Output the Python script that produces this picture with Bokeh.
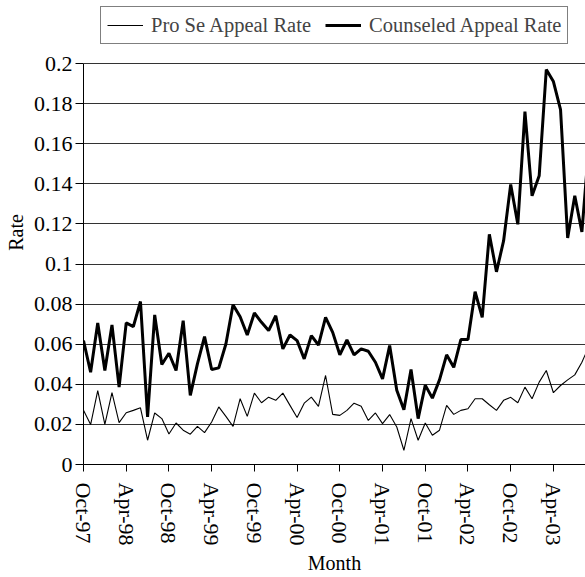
import pandas as pd
from bokeh.plotting import figure
from bokeh.models import Range1d, FixedTicker, Legend, LegendItem
from bokeh.embed import file_html
from bokeh.resources import INLINE

# Monthly appeal rates, Oct-97 onwards
pro_se = [0.027, 0.0199, 0.0369, 0.020, 0.0358, 0.0209, 0.0258, 0.027, 0.0283, 0.0121,
          0.0257, 0.0229, 0.0152, 0.0207, 0.0171, 0.0151, 0.019, 0.0159, 0.0212, 0.0287,
          0.024, 0.019, 0.0328, 0.024, 0.0356, 0.0308, 0.0336, 0.032, 0.0356, 0.0295,
          0.0234, 0.0306, 0.0336, 0.029, 0.0444, 0.025, 0.0245, 0.027, 0.0306, 0.029,
          0.022, 0.0257, 0.0204, 0.0249, 0.0187, 0.0071, 0.0229, 0.0121, 0.0207, 0.0146,
          0.0171, 0.0295, 0.025, 0.027, 0.0278, 0.0328, 0.0328, 0.0298, 0.027, 0.032,
          0.0335, 0.0308, 0.0386, 0.0328, 0.0411, 0.0469, 0.0358, 0.0394, 0.0422, 0.0447,
          0.051, 0.059]
counseled = [0.0618, 0.046, 0.0706, 0.0469, 0.0696, 0.0386, 0.0706, 0.0688, 0.0813, 0.0237,
             0.0746, 0.0499, 0.0555, 0.0469, 0.0717, 0.0345, 0.0502, 0.0638, 0.0474, 0.0482,
             0.0601, 0.0797, 0.0737, 0.0646, 0.0756, 0.0709, 0.0668, 0.0742, 0.0577, 0.0646,
             0.0618, 0.0527, 0.0643, 0.0596, 0.0734, 0.0659, 0.0547, 0.0621, 0.0547, 0.0577,
             0.0565, 0.051, 0.0427, 0.0593, 0.037, 0.0273, 0.0474, 0.0229, 0.0396, 0.0331,
             0.0422, 0.0547, 0.0485, 0.0623, 0.0623, 0.0862, 0.0734, 0.1148, 0.0961, 0.1115,
             0.1397, 0.1198, 0.176, 0.134, 0.144, 0.197, 0.191, 0.177, 0.113, 0.134,
             0.116, 0.16]
months = list(pd.date_range("1997-10-01", periods=len(counseled), freq="MS").strftime("%b-%y"))
tick_labels = ["Oct-97", "Apr-98", "Oct-98", "Apr-99", "Oct-99", "Apr-00",
               "Oct-00", "Apr-01", "Oct-01", "Apr-02", "Oct-02", "Apr-03"]
y_ticks = [0, 0.02, 0.04, 0.06, 0.08, 0.1, 0.12, 0.14, 0.16, 0.18, 0.2]
y_tick_labels = ["0", "0.02", "0.04", "0.06", "0.08", "0.1", "0.12", "0.14", "0.16", "0.18", "0.2"]

FONT = "Liberation Serif"
W, H = 585, 577
LEFT = 83
PLOT_TOP = 63          # pixel row of the 0.2 gridline
AXIS_Y = 464           # pixel row of the x axis
PX_PER_MONTH = 7.12
px_per_unit = (AXIS_Y - PLOT_TOP) / (y_ticks[-1] - y_ticks[0])
y_top = y_ticks[-1] + PLOT_TOP / px_per_unit   # frame extends to the top edge (room for legend)

x = list(range(len(months)))
p = figure(width=W, height=H, output_backend="svg", toolbar_location=None,
           x_range=Range1d(0, (W - LEFT) / PX_PER_MONTH), y_range=Range1d(0, y_top),
           min_border_left=LEFT, min_border_right=0, min_border_top=0,
           min_border_bottom=H - AXIS_Y)
p.outline_line_color = None
p.background_fill_color = "white"
p.border_fill_color = "white"
p.xgrid.visible = False
p.ygrid.grid_line_color = "#333333"
p.ygrid.grid_line_width = 1

r1 = p.line(x, pro_se, line_color="black", line_width=1.1)
r2 = p.line(x, counseled, line_color="black", line_width=3)

tick_idx = [months.index(t) for t in tick_labels]
p.xaxis.ticker = FixedTicker(ticks=tick_idx)
p.xaxis.major_label_overrides = {i: months[i] for i in tick_idx}
p.xaxis.major_label_orientation = "vertical"
p.xaxis.major_tick_out = 7
p.xaxis.major_tick_in = 0
p.xaxis.minor_tick_out = 0
p.xaxis.minor_tick_in = 0
p.xaxis.major_label_standoff = 11
p.xaxis.axis_label = "Month"
p.xaxis.axis_label_standoff = 3

p.yaxis.ticker = FixedTicker(ticks=y_ticks)
p.yaxis.bounds = (y_ticks[0], y_ticks[-1])
p.yaxis.major_label_overrides = dict(zip(y_ticks, y_tick_labels))
p.yaxis.major_tick_out = 8
p.yaxis.major_tick_in = 0
p.yaxis.minor_tick_out = 0
p.yaxis.minor_tick_in = 0
p.yaxis.major_label_standoff = 3
p.yaxis.axis_label = "Rate"
p.yaxis.axis_label_standoff = 4

for ax in (p.xaxis, p.yaxis):
    ax.major_label_text_font = FONT
    ax.major_label_text_font_size = "22px"
    ax.major_label_text_color = "black"
    ax.axis_label_text_font = FONT
    ax.axis_label_text_font_size = "20px"
    ax.axis_label_text_font_style = "normal"
    ax.axis_label_text_color = "black"
    ax.axis_line_color = "black"
    ax.major_tick_line_color = "black"

legend = Legend(items=[LegendItem(label="Pro Se Appeal Rate", renderers=[r1]),
                       LegendItem(label="Counseled Appeal Rate", renderers=[r2])],
                orientation="horizontal", location=(17, AXIS_Y - 44),
                border_line_color="black", border_line_width=1,
                background_fill_color="white", background_fill_alpha=1,
                label_text_font=FONT, label_text_font_size="20.5px",
                glyph_width=36, glyph_height=20, label_standoff=8, spacing=14,
                padding=6, margin=0, label_height=24)
p.add_layout(legend)

open("out.html", "w").write(file_html(p, INLINE))
